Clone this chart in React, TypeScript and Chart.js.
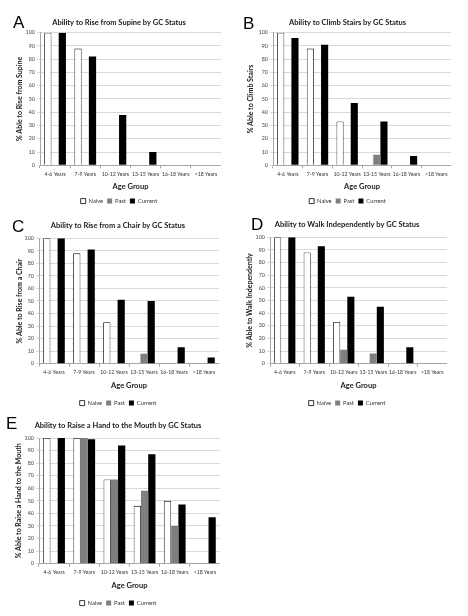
import React, { useEffect, useRef } from "react";
import { Chart, registerables } from "chart.js";

Chart.register(...registerables);

const categories = ["4-6 Years", "7-9 Years", "10-12 Years", "13-15 Years", "16-18 Years", ">18 Years"];
const seriesNames = ["Naive", "Past", "Current"];

const supineNaive = [100, 88, 0, 0, 0, 0];
const supinePast = [0, 0, 0, 0, 0, 0];
const supineCurrent = [100, 82, 38, 10, 0, 0];

const stairsNaive = [100, 88, 33, 0, 0, 0];
const stairsPast = [0, 0, 0, 8, 0, 0];
const stairsCurrent = [96, 91, 47, 33, 7, 0];

const chairNaive = [100, 88, 33, 0, 0, 0];
const chairPast = [0, 0, 0, 8, 0, 0];
const chairCurrent = [100, 91, 51, 50, 13, 5];

const walkNaive = [100, 88, 33, 0, 0, 0];
const walkPast = [0, 0, 11, 8, 0, 0];
const walkCurrent = [100, 93, 53, 45, 13, 0];

const handNaive = [100, 100, 67, 46, 50, 0];
const handPast = [0, 100, 67, 58, 30, 0];
const handCurrent = [100, 99, 94, 87, 47, 37];

const FONT = "Lato, 'Noto Sans', sans-serif";

type PanelProps = {
  letter: string;
  title: string;
  yTitle: string;
  naive: number[];
  past: number[];
  current: number[];
  left: number;
  top: number;
  width: number;
  height: number;
  padLeft: number;
  yWidth: number;
  yTitlePad: number;
  titleTop: number;
  titleBottom: number;
  xTitleBottom: number;
  xTitleTop: number;
  letterLeft: number;
  letterTop: number;
};

function Panel(p: PanelProps) {
  const ref = useRef<HTMLCanvasElement | null>(null);
  useEffect(() => {
    if (!ref.current) return;
    const chart = new Chart(ref.current, {
      type: "bar",
      data: {
        labels: categories,
        datasets: [
          {
            label: seriesNames[0],
            data: p.naive,
            backgroundColor: "#ffffff",
            borderColor: "#000000",
            borderWidth: 0.8,
          },
          {
            label: seriesNames[1],
            data: p.past,
            backgroundColor: "#7f7f7f",
            borderColor: "#7f7f7f",
            borderWidth: 0,
          },
          {
            label: seriesNames[2],
            data: p.current,
            backgroundColor: "#000000",
            borderColor: "#000000",
            borderWidth: 0,
          },
        ],
      },
      options: {
        animation: false,
        responsive: false,
        maintainAspectRatio: false,
        datasets: { bar: { barPercentage: 1.0, categoryPercentage: 0.72 } },
        layout: { padding: { left: p.padLeft, right: 0, top: 0, bottom: 0 } },
        plugins: {
          title: {
            display: true,
            text: p.title,
            color: "#1a1a1a",
            font: { family: FONT, size: 7.5, weight: "bold" },
            padding: { top: p.titleTop, bottom: p.titleBottom },
          },
          legend: {
            position: "bottom",
            labels: {
              boxWidth: 5,
              boxHeight: 5,
              padding: 4,
              color: "#333",
              font: { family: FONT, size: 5.8 },
            },
          },
          tooltip: { enabled: false },
        },
        scales: {
          x: {
            grid: { display: true, drawOnChartArea: false, tickLength: 3, color: "#a6a6a6" },
            border: { color: "#a6a6a6" },
            ticks: {
              color: "#333",
              font: { family: FONT, size: 5.2 },
              maxRotation: 0,
              minRotation: 0,
              autoSkip: false,
              padding: 2.9,
            },
            title: {
              display: true,
              text: "Age Group",
              color: "#1a1a1a",
              font: { family: FONT, size: 7.5, weight: "bold" },
              padding: { top: p.xTitleTop + 0.5, bottom: p.xTitleBottom },
            },
          },
          y: {
            min: 0,
            max: 100,
            afterFit: (scale: any) => {
              scale.width = p.yWidth;
            },
            grid: { color: "#d9d9d9", tickLength: 3 },
            border: { color: "#a6a6a6" },
            ticks: {
              stepSize: 10,
              color: "#444",
              font: { family: FONT, size: 5.4 },
              padding: 2,
            },
            title: {
              display: true,
              text: p.yTitle,
              color: "#1a1a1a",
              font: { family: FONT, size: 7, weight: "bold" },
              padding: { top: p.yTitlePad, bottom: 0 },
            },
          },
        },
      },
    });
    return () => chart.destroy();
  }, []);
  return (
    <>
      <canvas
        ref={ref}
        width={p.width}
        height={p.height}
        style={{ position: "absolute", left: p.left, top: p.top, width: p.width, height: p.height }}
      />
      <div
        style={{
          position: "absolute",
          left: p.letterLeft,
          top: p.letterTop,
          fontFamily: "'Liberation Sans', Arial, sans-serif",
          fontSize: 17,
          lineHeight: "17px",
          color: "#000",
        }}
      >
        {p.letter}
      </div>
    </>
  );
}

export default function App() {
  return (
    <div style={{ position: "absolute", left: 0, top: 0, width: 468, height: 616, background: "#fff", overflow: "hidden" }}>
      <Panel letter="A" title="Ability to Rise from Supine by GC Status" yTitle="% Able to Rise from Supine"
        naive={supineNaive} past={supinePast} current={supineCurrent}
        left={0} top={14} width={221} height={200}
        padLeft={17} yWidth={23} yTitlePad={-1.5} titleTop={4.2} titleBottom={5.5} xTitleTop={1.3} xTitleBottom={3.1}
        letterLeft={13} letterTop={13.6} />
      <Panel letter="B" title="Ability to Climb Stairs by GC Status" yTitle="% Able to Climb Stairs"
        naive={stairsNaive} past={stairsPast} current={stairsCurrent}
        left={234} top={14} width={217} height={200}
        padLeft={10} yWidth={29} yTitlePad={2.2} titleTop={4.2} titleBottom={5.5} xTitleTop={1.3} xTitleBottom={3.1}
        letterLeft={243} letterTop={14.6} />
      <Panel letter="C" title="Ability to Rise from a Chair by GC Status" yTitle="% Able to Rise from a Chair"
        naive={chairNaive} past={chairPast} current={chairCurrent}
        left={0} top={217} width={219} height={199}
        padLeft={17} yWidth={22} yTitlePad={-1.5} titleTop={4.5} titleBottom={7.8} xTitleTop={1.9} xTitleBottom={6.1}
        letterLeft={12} letterTop={217.6} />
      <Panel letter="D" title="Ability to Walk Independently by GC Status" yTitle="% Able to Walk Independently"
        naive={walkNaive} past={walkPast} current={walkCurrent}
        left={234} top={216} width={213} height={200}
        padLeft={13} yWidth={23} yTitlePad={-1.8} titleTop={4.5} titleBottom={7.8} xTitleTop={1.9} xTitleBottom={6.1}
        letterLeft={251} letterTop={215.6} />
      <Panel letter="E" title="Ability to Raise a Hand to the Mouth by GC Status" yTitle="% Able to Raise a Hand to the Mouth"
        naive={handNaive} past={handPast} current={handCurrent}
        left={0} top={417} width={220} height={199}
        padLeft={16} yWidth={23} yTitlePad={-1.5} titleTop={4.5} titleBottom={7.5} xTitleTop={1.9} xTitleBottom={6.1}
        letterLeft={6} letterTop={414.6} />
    </div>
  );
}
